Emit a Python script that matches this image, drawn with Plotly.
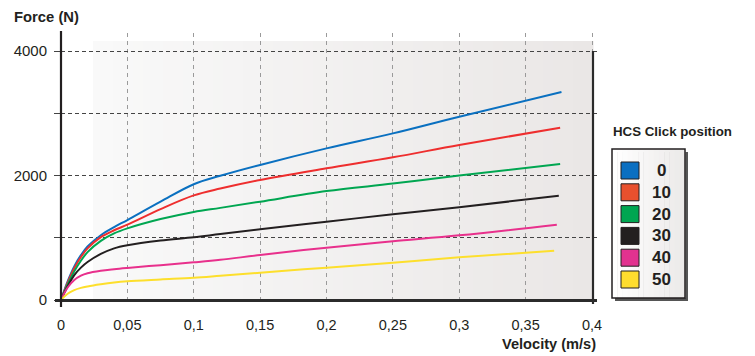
import plotly.graph_objects as go

# ---- data -----------------------------------------------------------------
velocity = [0, 0.005, 0.01, 0.015, 0.02, 0.03, 0.04, 0.05, 0.075, 0.1, 0.12, 0.15,
            0.2, 0.25, 0.3]
end_velocity = [0.377, 0.376, 0.376, 0.375, 0.3735, 0.3715]

click_positions = ["0", "10", "20", "30", "40", "50"]
force_0 = [0, 300, 540, 720, 860, 1040, 1170, 1285, 1580, 1860, 1995, 2170, 2436, 2677, 2945, 3340]
force_10 = [0, 280, 510, 690, 830, 1010, 1120, 1210, 1460, 1680, 1790, 1928, 2115, 2292, 2490, 2768]
force_20 = [0, 250, 460, 630, 770, 950, 1070, 1150, 1300, 1415, 1480, 1580, 1750, 1870, 2000, 2185]
force_30 = [0, 220, 400, 520, 610, 740, 830, 880, 955, 1007, 1060, 1135, 1258, 1376, 1489, 1676]
force_40 = [0, 200, 320, 390, 430, 470, 495, 515, 560, 605, 645, 723, 841, 943, 1039, 1210]
force_50 = [0, 100, 160, 195, 218, 252, 280, 300, 330, 358, 390, 439, 520, 600, 685, 792]
forces = [force_0, force_10, force_20, force_30, force_40, force_50]

line_colors = ["#0a70c0", "#ee2e2e", "#00a651", "#231f20", "#e8308c", "#fddf2c"]
swatch_colors = ["#0b6fc1", "#e8502e", "#00a651", "#231f20", "#e2328f", "#ffdd2e"]

x_ticks = [0, 0.05, 0.1, 0.15, 0.2, 0.25, 0.3, 0.35, 0.4]
x_labels = [str(v).replace(".", ",") if v else "0" for v in x_ticks]
y_ticks = [0, 1000, 2000, 3000, 4000]
y_labels = ["0", "", "2000", "", "4000"]

# ---- geometry ---------------------------------------------------------------
W, H = 755, 356
L, R, T, B = 61, 157, 33, 56
pw, ph = W - L - R, H - T - B
X_MAX = 0.4 * pw / 531.0
Y_MAX = 4000 * ph / 249.0
FONT = "Liberation Sans, Arial, sans-serif"
INK = "#231f20"


def px(x):
    return (x - L) / pw


def py(y):
    return (H - B - y) / ph


def mix(c0, c1, t):
    return "rgb(%d,%d,%d)" % tuple(round(a + (b - a) * t) for a, b in zip(c0, c1))


fig = go.Figure()

for name, f, vend, col in zip(click_positions, forces, end_velocity, line_colors):
    fig.add_trace(go.Scatter(
        x=velocity + [vend], y=f, name=name, mode="lines",
        line=dict(color=col, width=2, shape="spline", smoothing=1.0),
        showlegend=False, hoverinfo="x+y+name",
    ))

shapes = []

# shaded panel behind the curves
n = 50
x0, x1, ytop = 93, 593, 41
for i in range(n):
    a = x0 + (x1 - x0) * i / n
    b = x0 + (x1 - x0) * (i + 1) / n
    shapes.append(dict(type="rect", xref="paper", yref="paper", layer="below",
                       x0=px(a), x1=px(b) + 0.001, y0=py(300), y1=py(ytop),
                       fillcolor=mix((249, 249, 249), (234, 231, 230), i / (n - 1)),
                       line=dict(width=0)))

# axis lines and right frame
shapes.append(dict(type="line", xref="paper", yref="paper", layer="above",
                   x0=px(55), x1=px(597), y0=py(300.5), y1=py(300.5),
                   line=dict(color="#2b2b2b", width=3)))
shapes.append(dict(type="line", xref="paper", yref="paper", layer="above",
                   x0=px(61), x1=px(61), y0=py(307), y1=py(31),
                   line=dict(color=INK, width=2.2)))
shapes.append(dict(type="line", xref="paper", yref="paper", layer="above",
                   x0=px(593), x1=px(593), y0=py(304), y1=py(51),
                   line=dict(color="#2b2b2b", width=2.2)))

# legend box
bx0, bx1, by0, by1 = 612, 685, 149, 298
shapes.append(dict(type="rect", xref="paper", yref="paper",
                   x0=px(bx0 + 3), x1=px(bx1 + 3), y0=py(by1 + 3), y1=py(by0 + 3),
                   fillcolor="#555555", line=dict(width=0)))
m = 14
for i in range(m):
    a = bx0 + (bx1 - bx0) * i / m
    b = bx0 + (bx1 - bx0) * (i + 1) / m
    shapes.append(dict(type="rect", xref="paper", yref="paper",
                       x0=px(a), x1=px(b) + 0.001, y0=py(by1), y1=py(by0),
                       fillcolor=mix((255, 255, 255), (236, 234, 233), i / (m - 1)),
                       line=dict(width=0)))
shapes.append(dict(type="rect", xref="paper", yref="paper",
                   x0=px(bx0), x1=px(bx1), y0=py(by1), y1=py(by0),
                   fillcolor="rgba(0,0,0,0)", line=dict(color=INK, width=1.5)))

annotations = []
row_y = [170.5, 192.3, 214.1, 235.9, 257.7, 279.5]
for name, col, yc in zip(click_positions, swatch_colors, row_y):
    shapes.append(dict(type="rect", xref="paper", yref="paper",
                       x0=px(621), x1=px(639), y0=py(yc + 8.5), y1=py(yc - 8.5),
                       fillcolor=col, line=dict(color=INK, width=1)))
    annotations.append(dict(xref="paper", yref="paper", x=px(661), y=py(yc),
                            text="<b>%s</b>" % name, showarrow=False,
                            xanchor="center", yanchor="middle",
                            font=dict(family=FONT, size=17, color=INK)))

annotations += [
    dict(xref="paper", yref="paper", x=px(12), y=py(17), text="<b>Force (N)</b>",
         showarrow=False, xanchor="left", yanchor="middle",
         font=dict(family=FONT, size=14.8, color=INK)),
    dict(xref="paper", yref="paper", x=px(597.5), y=py(344), text="<b>Velocity (m/s)</b>",
         showarrow=False, xanchor="right", yanchor="middle",
         font=dict(family=FONT, size=14.6, color=INK)),
    dict(xref="paper", yref="paper", x=px(611), y=py(131.5), text="<b>HCS Click position</b>",
         showarrow=False, xanchor="left", yanchor="middle",
         font=dict(family=FONT, size=13.3, color=INK)),
]

fig.update_layout(
    width=W, height=H,
    margin=dict(l=L, r=R, t=T, b=B, pad=0),
    paper_bgcolor="white", plot_bgcolor="white",
    shapes=shapes, annotations=annotations,
    showlegend=False,
    xaxis=dict(range=[0, X_MAX], tickvals=x_ticks, ticktext=x_labels,
               showgrid=True, gridcolor="#9a9a9a", griddash="4px,4px", gridwidth=1,
               zeroline=False, showline=False, ticks="", ticklabelstandoff=14,
               tickfont=dict(family=FONT, size=14.5, color=INK), fixedrange=True),
    yaxis=dict(range=[0, Y_MAX], tickvals=y_ticks, ticktext=y_labels,
               showgrid=True, gridcolor="#444444", griddash="4px,3px", gridwidth=1,
               zeroline=False, showline=False, ticks="outside", ticklen=6,
               tickcolor="#444444", tickwidth=1, ticklabelstandoff=4,
               tickfont=dict(family=FONT, size=15, color=INK), fixedrange=True),
)

fig.write_html("out.html")
